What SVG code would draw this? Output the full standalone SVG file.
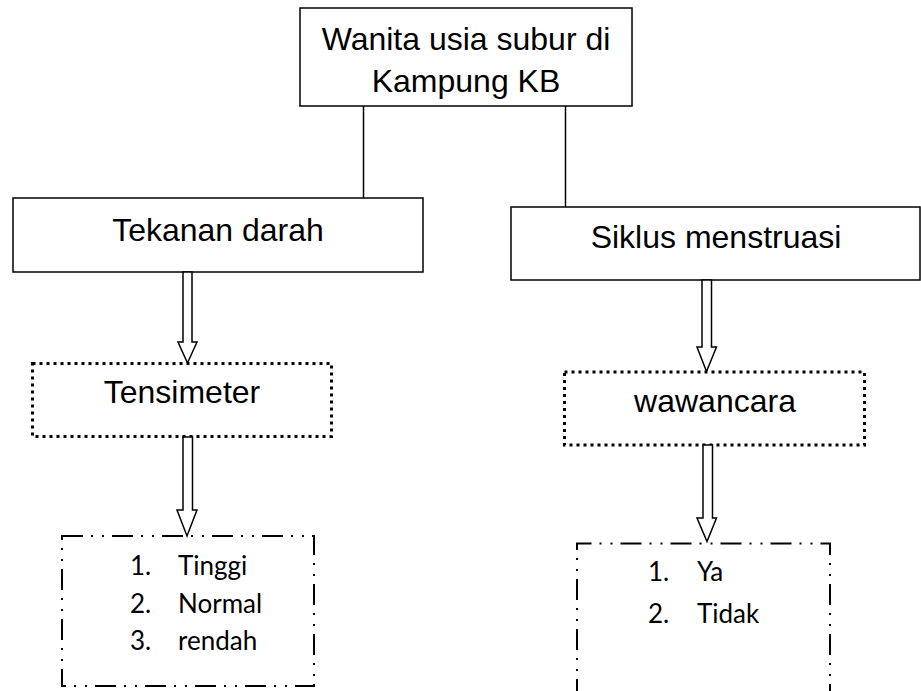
<svg xmlns="http://www.w3.org/2000/svg" width="921" height="691" viewBox="0 0 921 691">
<style>
.box{fill:#fff;stroke:#000;stroke-width:1.5}
.dot{fill:#fff;stroke:#000;stroke-width:3;stroke-dasharray:3 4}
.dd{fill:none;stroke:#000;stroke-width:2;stroke-dasharray:21 8 2 9 2 8}
.arrow{fill:#fff;stroke:#000;stroke-width:1.5;stroke-linejoin:miter}
.line{stroke:#000;stroke-width:1.5;fill:none}
.t{font-family:"Liberation Sans",Arial,sans-serif;font-size:32px;fill:#000;text-anchor:middle}
.l{font-family:Lato,"Open Sans",sans-serif;font-size:26px;fill:#000}
</style>
<g id="connectors">
<line class="line" x1="363.5" y1="106" x2="363.5" y2="203"/>
<line class="line" x1="565.5" y1="106" x2="565.5" y2="212"/>
</g>
<g id="node-top">
<rect class="box" x="300" y="8" width="332" height="98"/>
<text class="t" x="466" y="50">Wanita usia subur di</text>
<text class="t" x="466" y="92">Kampung KB</text>
</g>
<g id="node-tekanan">
<rect class="box" x="13" y="198" width="410" height="74"/>
<text class="t" x="218" y="241">Tekanan darah</text>
</g>
<g id="node-siklus">
<rect class="box" x="511" y="207" width="409" height="73"/>
<text class="t" x="716" y="248">Siklus menstruasi</text>
</g>
<g id="node-tensimeter">
<rect class="dot" x="32.5" y="363.5" width="299" height="73"/>
<text class="t" x="182" y="403">Tensimeter</text>
</g>
<g id="node-wawancara">
<rect class="dot" x="564.5" y="372" width="300" height="73"/>
<text class="t" x="715" y="412">wawancara</text>
</g>
<g id="arrows">
<polygon class="arrow" points="183,272 192,272 192,342 197,342 187.5,363 178,342 183,342"/>
<polygon class="arrow" points="183,437 192.5,437 192.5,510 197,510 187,536 177,510 183,510"/>
<polygon class="arrow" points="702,280 711.5,280 711.5,347 716.5,347 706.5,371.5 697,347 702,347"/>
<polygon class="arrow" points="703,445 712.5,445 712.5,518 716.5,518 707,541.5 697,518 703,518"/>
</g>
<g id="node-hasil-tekanan">
<rect class="dd" x="62" y="536" width="252" height="150"/>
<text class="l" x="130" y="575">1.</text>
<text class="l" x="178" y="575">Tinggi</text>
<text class="l" x="130" y="613">2.</text>
<text class="l" x="178" y="613">Normal</text>
<text class="l" x="130" y="650">3.</text>
<text class="l" x="178" y="650">rendah</text>
</g>
<g id="node-hasil-siklus">
<path class="dd" d="M577,700 V543.5 H830 V700"/>
<text class="l" x="648" y="581">1.</text>
<text class="l" x="697" y="581">Ya</text>
<text class="l" x="648" y="623">2.</text>
<text class="l" x="697" y="623">Tidak</text>
</g>
</svg>
